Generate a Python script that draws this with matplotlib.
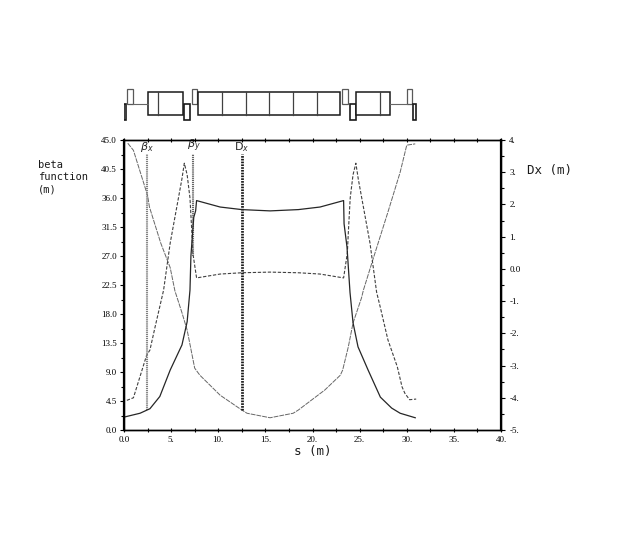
#!/usr/bin/env python

import matplotlib
matplotlib.use('Agg')
matplotlib.rcParams.update({
    'font.family': 'DejaVu Sans Mono',
    'font.size': 6,
    'axes.linewidth': 1.0,
})

import matplotlib.pyplot as plt
from matplotlib.ticker import MultipleLocator, FixedLocator

W, H = 623.0, 554.0

# beta x, falls from the start to a minimum at mid cell
s_bx = [0.4, 1.0, 2.5, 2.7, 3.9, 4.9, 5.4, 6.15, 6.7, 7.5, 8.05, 10.2, 12.5, 13.05, 15.5,
        17.95, 18.5, 21.3, 22.95, 23.2, 23.8, 24.3, 25.2, 25.4, 26.4, 28.0, 29.3, 30.0, 30.9]
bx = [44.5, 43.4, 36.4, 34.6, 29.0, 25.2, 21.6, 18.2, 15.5, 9.6, 8.5, 5.4, 3.1, 2.6, 1.9,
      2.6, 3.1, 6.2, 8.5, 9.3, 12.9, 16.6, 20.5, 21.7, 26.4, 33.8, 40.0, 44.2, 44.4]

# beta y, two peaks and the low plateau between them
s_by = [0.3, 1.0, 2.4, 2.75, 3.3, 4.2, 4.9, 6.15, 6.4, 6.7, 7.0, 7.2, 7.3, 7.7, 10.2, 12.5, 15.5,
        18.5, 20.8, 23.3, 23.7, 23.8, 24.0, 24.3, 24.6, 24.85, 26.1, 26.8, 27.2, 28.0, 29.0, 29.5, 29.8, 30.3, 31.0]
by = [4.6, 5.0, 11.6, 12.4, 16.0, 21.7, 29.0, 39.0, 41.4, 39.6, 36.0, 30.6, 27.5, 23.6, 24.2, 24.4, 24.5,
      24.4, 24.2, 23.6, 27.5, 30.6, 36.0, 39.6, 41.4, 39.0, 29.0, 21.4, 19.0, 14.0, 9.8, 6.7, 5.7, 4.7, 4.8]

# dispersion, drawn on the right axis
s_dx = [0.0, 1.7, 2.75, 3.8, 4.9, 6.15, 6.7, 7.0, 7.1, 7.4, 7.6, 7.7, 10.2, 12.5, 15.5,
        18.5, 20.8, 23.3, 23.35, 23.66, 23.98, 24.3, 24.83, 25.9, 27.2, 28.4, 29.3, 30.9]
dx = [-4.6, -4.48, -4.34, -3.96, -3.14, -2.36, -1.64, -0.66, 0.4, 1.6, 1.8, 2.12, 1.92, 1.84, 1.8,
      1.84, 1.92, 2.12, 1.4, 0.68, -0.73, -1.67, -2.42, -3.14, -3.98, -4.32, -4.48, -4.62]

# label lines: s, lower end, upper end on the left axis
marker_s = [2.4, 7.37, 12.48]
marker_lo = [3.1, 27.0, 3.1]
marker_hi = [42.8, 42.8, 42.8]
marker_labels = [r'$\beta_x$', r'$\beta_y$', r'$\mathrm{D}_x$']
marker_colors = ['0.5', '0.4', '0.1']
marker_widths = [1.5, 1.5, 2.0]

x_tick_labels = ['0.0', '5.', '10.', '15.', '20.', '25.', '30.', '35.', '40.']
left_tick_labels = ['0.0', '4.5', '9.0', '13.5', '18.0', '22.5', '27.0', '31.5', '36.0', '40.5', '45.0']
right_tick_labels = ['-5.', '-4.', '-3.', '-2.', '-1.', '0.0', '1.', '2.', '3.', '4.']

# lattice strip: start, end of each element
up_start = [0.3, 7.2, 23.15, 30.0]
up_end = [0.95, 7.75, 23.75, 30.55]
down_start = [-0.05, 6.4, 23.95, 30.7]
down_end = [0.2, 7.0, 24.6, 31.0]
block_start = [2.55, 7.85, 24.6]
block_end = [6.3, 22.9, 28.25]
dividers = [3.6, 10.4, 12.9, 15.4, 17.9, 20.5, 27.2]
drift_start = [0.95, 28.25]
drift_end = [2.55, 30.0]

fig = plt.figure(figsize=(W / 100, H / 100), dpi=100)
ax = fig.add_axes([124 / W, 1 - 430 / H, 377 / W, 290 / H])

ax.plot(s_bx, bx, color='0.4', lw=0.7, ls=(0, (5, 1)))
ax.plot(s_by, by, color='0.25', lw=0.8, ls=(0, (3, 1.5)))
ax.set_xlim(0, 40)
ax.set_ylim(0, 45)
ax.xaxis.set_major_locator(FixedLocator(range(0, 45, 5)))
ax.xaxis.set_minor_locator(MultipleLocator(2.5))
ax.set_xticklabels(x_tick_labels, family='Liberation Serif', fontsize=6.5)
ax.yaxis.set_major_locator(FixedLocator([4.5 * i for i in range(11)]))
ax.yaxis.set_minor_locator(MultipleLocator(2.25))
ax.set_yticklabels(left_tick_labels, family='Liberation Serif', fontsize=6.5)
ax.tick_params(axis='x', which='both', top=True, direction='inout', length=3, width=0.8, pad=3)
ax.tick_params(axis='y', which='major', length=3, width=0.8, pad=2)
ax.tick_params(axis='y', which='minor', length=2, width=0.8)
ax.spines['left'].set_linewidth(1.6)

ax2 = ax.twinx()
ax2.plot(s_dx, dx, color='0.15', lw=0.9)
ax2.set_ylim(-5, 4)
ax2.yaxis.set_major_locator(FixedLocator(range(-5, 5)))
ax2.yaxis.set_minor_locator(MultipleLocator(0.5))
ax2.set_yticklabels(right_tick_labels, family='Liberation Serif', fontsize=6.5)
ax2.tick_params(axis='y', which='major', length=3, width=0.8, pad=3)
ax2.tick_params(axis='y', which='minor', length=2, width=0.8)
ax2.spines['right'].set_linewidth(1.6)

for s, lo, hi, lab, col, w in zip(marker_s, marker_lo, marker_hi, marker_labels, marker_colors, marker_widths):
    ax.plot([s, s], [lo, hi], color=col, lw=w, ls=(0, (0.6, 0.4)))
    ax.text(s, hi, lab, ha='center', va='bottom', fontsize=8, family='serif', color='0.15')

fig.text(38 / W, 1 - 165 / H, 'beta', fontsize=7.5, va='center', color='0.1')
fig.text(38 / W, 1 - 177 / H, 'function', fontsize=7.5, va='center', color='0.1')
fig.text(38 / W, 1 - 189 / H, '(m)', fontsize=7.5, va='center', color='0.1')
fig.text(527 / W, 1 - 171 / H, 'Dx (m)', fontsize=9, va='center', color='0.1')
fig.text(313 / W, 1 - 452 / H, 's (m)', fontsize=9, va='center', ha='center', color='0.1')

# lattice strip above the plot, same s scale
lat = fig.add_axes([124 / W, 1 - 124 / H, 377 / W, 38 / H], sharex=ax)
lat.set_ylim(-20, 18)
lat.axis('off')
for a, b in zip(up_start, up_end):
    lat.fill([a, b, b, a, a], [0, 0, 15, 15, 0], fc='white', ec='0.35', lw=0.9)
for a, b in zip(down_start, down_end):
    lat.fill([a, b, b, a, a], [0, 0, -16, -16, 0], fc='white', ec='0.1', lw=1.2)
for a, b in zip(block_start, block_end):
    lat.fill([a, b, b, a, a], [-11, -11, 12, 12, -11], fc='white', ec='0.1', lw=1.1)
for d in dividers:
    lat.plot([d, d], [-11, 12], color='0.25', lw=0.9)
for a, b in zip(drift_start, drift_end):
    lat.plot([a, b], [0, 0], color='0.4', lw=0.8)

plt.savefig('out.png', dpi=100)
